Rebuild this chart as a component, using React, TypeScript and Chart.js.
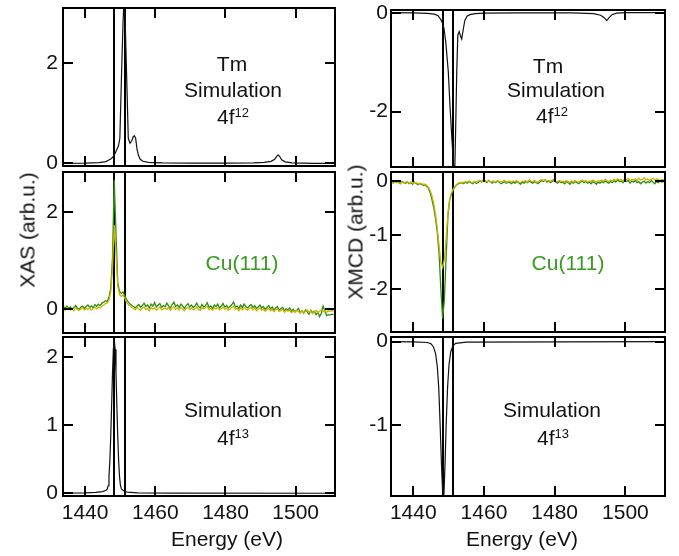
import React, { useEffect, useRef } from 'react';
import { Chart, registerables } from 'chart.js';

Chart.register(...registerables);

const FONT = '"Liberation Sans", Arial, Helvetica, sans-serif';
const INK = '#111111';
const GREEN = '#2f8c12';
const GREEN_TEXT = '#3a9a22';
const YELLOW = '#c9b400';

// ---------- axes ----------
const energyTicks = [1440, 1460, 1480, 1500];
const markerEnergies = [1448.3, 1451.3];
const energyMin = 1433.7;
const energyMax = 1511.2;

const xasTopTicks = [0, 2];
const xmcdTopTicks = [0, -2];
const xasMidTicks = [0, 2];
const xmcdMidTicks = [0, -1, -2];
const xasBotTicks = [0, 1, 2];
const xmcdBotTicks = [0, -1];

// ---------- Tm simulation 4f12 ----------
const simXas12E = [1433.7, 1440.0, 1444.0, 1446.0, 1446.6, 1447.2, 1447.7, 1448.0, 1448.5, 1449.0, 1449.5, 1449.9, 1450.4, 1450.8, 1451.1, 1451.4, 1451.8, 1452.3, 1452.8, 1453.3, 1453.7, 1454.0, 1454.4, 1454.8, 1455.2, 1455.7, 1456.5, 1458.0, 1462.0, 1470.0, 1480.0, 1488.0, 1491.0, 1493.0, 1494.0, 1494.6, 1495.0, 1495.4, 1496.0, 1497.0, 1499.0, 1505.0, 1511.0];
const simXas12 = [0.0, 0.005, 0.015, 0.035, 0.06, 0.08, 0.11, 0.13, 0.19, 0.27, 0.35, 0.5, 1.83, 2.8, 3.3, 2.9, 1.83, 0.5, 0.4, 0.45, 0.53, 0.55, 0.5, 0.28, 0.16, 0.08, 0.04, 0.02, 0.01, 0.005, 0.005, 0.01, 0.02, 0.04, 0.08, 0.14, 0.17, 0.14, 0.07, 0.03, 0.01, 0.0, 0.0];

const simXmcd12E = [1433.7, 1440.0, 1444.0, 1446.0, 1447.0, 1447.8, 1448.3, 1448.7, 1449.2, 1449.9, 1450.4, 1450.9, 1451.4, 1451.7, 1452.0, 1452.3, 1452.6, 1453.0, 1453.3, 1453.7, 1454.1, 1454.6, 1455.2, 1456.0, 1457.5, 1460.0, 1470.0, 1485.0, 1491.0, 1493.0, 1494.0, 1494.7, 1495.4, 1496.2, 1497.5, 1500.0, 1511.0];
const simXmcd12 = [0.0, -0.005, -0.012, -0.03, -0.06, -0.14, -0.22, -0.32, -0.6, -1.19, -1.9, -2.53, -3.1, -3.3, -2.3, -1.19, -0.45, -0.38, -0.46, -0.53, -0.35, -0.15, -0.07, -0.04, -0.02, -0.01, -0.005, -0.005, -0.02, -0.05, -0.1, -0.16, -0.1, -0.04, -0.01, 0.0, 0.0];

// ---------- simulation 4f13 ----------
const simXas13E = [1433.7, 1440.0, 1443.0, 1445.0, 1446.0, 1446.3, 1446.55, 1446.8, 1447.05, 1447.3, 1447.55, 1447.8, 1448.05, 1448.3, 1448.55, 1448.8, 1449.05, 1449.3, 1449.55, 1449.8, 1450.05, 1450.3, 1450.6, 1451.2, 1452.0, 1455.0, 1465.0, 1511.0];
const simXas13 = [0.003, 0.006, 0.012, 0.025, 0.045, 0.06, 0.11, 0.25, 0.48, 0.83, 1.28, 1.75, 2.11, 2.25, 2.11, 1.75, 1.28, 0.83, 0.48, 0.25, 0.12, 0.07, 0.05, 0.03, 0.018, 0.006, 0.002, 0.0];

const simXmcd13E = [1433.7, 1440.0, 1444.0, 1445.0, 1445.7, 1446.3, 1446.8, 1447.2, 1447.6, 1448.0, 1448.3, 1448.5, 1448.7, 1449.0, 1449.3, 1449.7, 1450.1, 1450.6, 1451.2, 1452.0, 1455.0, 1511.0];
const simXmcd13 = [0.0, -0.003, -0.01, -0.025, -0.06, -0.14, -0.3, -0.55, -1.0, -1.5, -1.8, -1.95, -1.8, -1.45, -1.0, -0.55, -0.28, -0.12, -0.05, -0.02, -0.005, 0.0];

// ---------- Cu(111) measurements, sampled every 0.5 eV from 1433.8 eV ----------
const expStart = 1433.8;
const expStep = 0.5;

const xasGreen = [
  0.05, 0.02, 0.06, 0.01, 0.04, 0.00, 0.03, 0.07, 0.02, -0.01, 0.04, 0.06, 0.01, 0.05, 0.08, 0.03, 0.06, 0.02, 0.09, 0.05, 0.10, 0.07, 0.12,
  0.14, 0.17, 0.15, 0.24, 0.42, 1.05, 2.68, 1.55, 0.55, 0.36, 0.32, 0.35, 0.28, 0.19, 0.14, 0.10, 0.07,
  0.05, 0.02, 0.06, 0.09, 0.03, 0.07, 0.12, 0.05, 0.08, 0.02, 0.10, 0.06, 0.13, 0.04, 0.08, 0.11, 0.03, 0.07, 0.05, 0.12, 0.06, 0.02, 0.09, 0.14, 0.05, 0.08, 0.03, 0.10, 0.06, 0.01, 0.07, 0.11, 0.04,
  0.08, 0.03, 0.06, 0.12, 0.05, 0.02, 0.09, 0.04, 0.07, 0.13, 0.03, 0.06, 0.01, 0.08, 0.05, 0.10, 0.02, 0.06, 0.11, 0.04, 0.07, 0.02, 0.05, 0.09, 0.14, 0.04, 0.06, 0.01, 0.08, 0.03, 0.10, 0.05, 0.02,
  0.06, 0.09, 0.03, 0.07, 0.01, 0.04, 0.08, 0.02, 0.05, -0.01, 0.03, 0.07, 0.00, 0.04, -0.02, 0.02, 0.05, -0.03, 0.01, 0.03, -0.04, 0.00, -0.02, 0.02, -0.05,
  -0.01, -0.06, -0.03, 0.01, -0.07, -0.04, -0.09, -0.02, -0.06, -0.11, -0.03, -0.08, -0.05, -0.12, -0.07, -0.16, -0.09, 0.06, -0.04, -0.14, -0.12, -0.13, -0.11, -0.12,
];

const xasYellow = [
  0.02, -0.03, 0.03, 0.00, -0.02, 0.01, -0.04, 0.02, -0.01, -0.03, 0.00, 0.03, -0.02, 0.01, -0.01, 0.02, -0.03, 0.01, 0.03, 0.00, 0.04, 0.02, 0.06,
  0.08, 0.11, 0.12, 0.18, 0.35, 0.85, 1.74, 1.15, 0.48, 0.30, 0.26, 0.29, 0.22, 0.14, 0.09, 0.06, 0.03,
  0.01, -0.02, 0.03, 0.00, -0.03, 0.02, 0.04, -0.01, 0.01, -0.04, 0.03, 0.00, 0.02, -0.03, 0.01, 0.04, -0.02, 0.00, 0.02, -0.01, 0.03, -0.03, 0.01, 0.05, -0.01, 0.02, -0.02, 0.03, 0.00, -0.04, 0.01, 0.03, -0.01,
  0.02, -0.02, 0.01, 0.04, -0.01, -0.03, 0.02, 0.00, 0.03, 0.05, -0.02, 0.01, -0.03, 0.02, 0.00, 0.03, -0.02, 0.01, 0.04, -0.01, 0.02, -0.03, 0.00, 0.03, 0.05, -0.01, 0.01, -0.04, 0.02, -0.02, 0.03, 0.00, -0.03,
  0.01, 0.03, -0.02, 0.02, -0.04, -0.01, 0.02, -0.03, 0.00, -0.05, -0.02, 0.01, -0.04, -0.01, -0.06, -0.02, 0.00, -0.05, -0.03, -0.01, -0.07, -0.03, -0.05, -0.02, -0.08,
  -0.04, -0.07, -0.03, -0.06, -0.09, -0.04, -0.08, -0.05, -0.02, -0.07, -0.04, -0.10, -0.06, -0.03, -0.08, -0.05, -0.02, -0.06, -0.03, -0.07, -0.04, -0.05, -0.03, -0.05,
];

const xmcdGreen = [
  -0.01, -0.04, 0.00, -0.03, -0.02, -0.05, -0.01, -0.03, -0.04, -0.02, -0.05, -0.03, -0.06, -0.02, -0.04, -0.07, -0.05, -0.06, -0.08, -0.07,
  -0.10, -0.14, -0.22, -0.35, -0.50, -0.70, -0.95, -1.35, -2.00, -2.55, -2.20, -1.40, -0.65, -0.35, -0.24, -0.16, -0.11, -0.07, -0.05,
  -0.04, -0.03, -0.05, -0.02, -0.04, -0.01, -0.03, -0.05, -0.02, -0.04, -0.03, 0.01, -0.02, 0.02, 0.00, -0.03, 0.01, -0.02, -0.04, -0.01, -0.03, 0.00, -0.02, -0.05, -0.03, -0.01, -0.04, -0.02, -0.03,
  -0.05, -0.02, -0.04, -0.01, -0.03, -0.06, -0.02, -0.04, -0.01, -0.03, 0.00, -0.02, -0.04, -0.01, -0.03, -0.05, -0.02, 0.01, -0.01, 0.02, -0.02, 0.00, -0.03, -0.01, 0.01, -0.02, -0.04, -0.01, -0.03,
  -0.02, -0.05, -0.01, -0.03, -0.06, -0.02, -0.04, -0.01, -0.03, -0.05, -0.02, 0.00, -0.03, -0.01, -0.04, -0.02, -0.05, -0.01, -0.03, -0.06, -0.02, -0.04, -0.01, -0.03, 0.00, -0.02, -0.04, -0.01, -0.03,
  0.01, -0.02, 0.02, -0.01, 0.00, -0.03, 0.02, -0.01, 0.01, -0.04, 0.00, -0.02, 0.01, -0.03, -0.01, -0.05, -0.02, 0.00, -0.04, -0.01, -0.03, 0.01, -0.02, -0.05, -0.01, -0.03, 0.00, -0.02, -0.01,
];

const xmcdYellow = [
  -0.02, -0.03, -0.01, -0.02, -0.03, -0.04, -0.02, -0.02, -0.03, -0.01, -0.04, -0.02, -0.04, -0.03, -0.03, -0.05, -0.04, -0.05, -0.06, -0.06,
  -0.08, -0.12, -0.18, -0.28, -0.42, -0.62, -0.88, -1.20, -1.50, -1.60, -1.45, -1.05, -0.60, -0.33, -0.22, -0.15, -0.10, -0.06, -0.04,
  -0.03, -0.02, -0.03, -0.01, -0.02, 0.00, -0.02, -0.03, -0.01, -0.02, 0.00, 0.01, -0.01, 0.02, 0.01, -0.01, 0.00, -0.02, -0.01, 0.00, -0.02, 0.01, -0.01, -0.02, 0.00, 0.01, -0.02, -0.01, 0.00,
  -0.02, 0.00, -0.01, 0.01, -0.02, -0.03, 0.00, -0.01, 0.01, -0.02, 0.02, 0.00, -0.01, 0.01, -0.02, -0.01, 0.01, 0.03, 0.01, 0.02, 0.00, 0.01, -0.01, 0.02, 0.03, 0.00, -0.01, 0.01, -0.01,
  0.00, -0.02, 0.01, -0.01, -0.03, 0.00, -0.02, 0.01, -0.01, -0.02, 0.00, 0.02, -0.01, 0.01, -0.02, 0.00, -0.01, 0.02, 0.00, -0.02, 0.01, -0.01, 0.02, 0.00, 0.03, 0.01, -0.01, 0.02, 0.00,
  0.03, 0.01, 0.04, 0.02, 0.03, 0.00, 0.04, 0.02, 0.05, 0.01, 0.03, 0.02, 0.04, 0.01, 0.05, 0.02, 0.03, 0.06, 0.02, 0.04, 0.01, 0.03, 0.05, 0.02, 0.04, 0.03, 0.01, 0.03, 0.02,
];

// ---------- helpers ----------
const pairUp = (xs: number[], ys: number[]) => ys.map((y, i) => ({ x: xs[i], y }));
const sampled = (ys: number[]) => ys.map((y, i) => ({ x: expStart + expStep * i, y }));

type Series = { points: { x: number; y: number }[]; color: string; width: number };
type PanelCfg = {
  id: string;
  left: number; top: number; width: number; height: number;
  pad: { left: number; right: number; top: number; bottom: number };
  yWidth: number; yPad: number;
  yMin: number; yMax: number; yTicks: number[];
  showX: boolean;
  series: Series[];
};

const LEFT_COL = { left: 0, width: 340, yWidth: 63, padRight: 5, yPad: 5 };
const RIGHT_COL = { left: 340, width: 339, yWidth: 51, padRight: 14, yPad: 3 };

const panels: PanelCfg[] = [
  {
    id: 'xas-top', left: LEFT_COL.left, top: 0, width: LEFT_COL.width, height: 180,
    pad: { left: 0, right: LEFT_COL.padRight, top: 8, bottom: 14 }, yWidth: LEFT_COL.yWidth, yPad: LEFT_COL.yPad,
    yMin: -0.054, yMax: 3.106, yTicks: xasTopTicks, showX: false,
    series: [{ points: pairUp(simXas12E, simXas12), color: INK, width: 1.2 }],
  },
  {
    id: 'xmcd-top', left: RIGHT_COL.left, top: 0, width: RIGHT_COL.width, height: 180,
    pad: { left: 0, right: RIGHT_COL.padRight, top: 10, bottom: 13 }, yWidth: RIGHT_COL.yWidth, yPad: RIGHT_COL.yPad,
    yMin: -3.12, yMax: 0.055, yTicks: xmcdTopTicks, showX: false,
    series: [{ points: pairUp(simXmcd12E, simXmcd12), color: INK, width: 1.2 }],
  },
  {
    id: 'xas-mid', left: LEFT_COL.left, top: 166, width: LEFT_COL.width, height: 174,
    pad: { left: 0, right: LEFT_COL.padRight, top: 6, bottom: 7 }, yWidth: LEFT_COL.yWidth, yPad: LEFT_COL.yPad,
    yMin: -0.50, yMax: 2.84, yTicks: xasMidTicks, showX: false,
    series: [
      { points: sampled(xasYellow), color: YELLOW, width: 1.3 },
      { points: sampled(xasGreen), color: GREEN, width: 1.3 },
    ],
  },
  {
    id: 'xmcd-mid', left: RIGHT_COL.left, top: 166, width: RIGHT_COL.width, height: 174,
    pad: { left: 0, right: RIGHT_COL.padRight, top: 6, bottom: 8 }, yWidth: RIGHT_COL.yWidth, yPad: RIGHT_COL.yPad,
    yMin: -2.796, yMax: 0.167, yTicks: xmcdMidTicks, showX: false,
    series: [
      { points: sampled(xmcdYellow), color: YELLOW, width: 1.3 },
      { points: sampled(xmcdGreen), color: GREEN, width: 1.3 },
    ],
  },
  {
    id: 'xas-bot', left: LEFT_COL.left, top: 330, width: LEFT_COL.width, height: 226,
    pad: { left: 0, right: LEFT_COL.padRight, top: 7, bottom: 0 }, yWidth: LEFT_COL.yWidth, yPad: LEFT_COL.yPad,
    yMin: -0.04, yMax: 2.29, yTicks: xasBotTicks, showX: true,
    series: [{ points: pairUp(simXas13E, simXas13), color: INK, width: 1.2 }],
  },
  {
    id: 'xmcd-bot', left: RIGHT_COL.left, top: 330, width: RIGHT_COL.width, height: 226,
    pad: { left: 0, right: RIGHT_COL.padRight, top: 7, bottom: 0 }, yWidth: RIGHT_COL.yWidth, yPad: RIGHT_COL.yPad,
    yMin: -1.85, yMax: 0.056, yTicks: xmcdBotTicks, showX: true,
    series: [{ points: pairUp(simXmcd13E, simXmcd13), color: INK, width: 1.2 }],
  },
];

const TICK_LEN = 10;

const framePlugin = {
  id: 'igorFrame',
  beforeDatasetsDraw(chart: any) {
    const { ctx, chartArea: a, scales } = chart;
    const xs = scales.x;
    ctx.save();
    ctx.strokeStyle = '#000';
    ctx.lineWidth = 2;
    ctx.beginPath();
    for (const e of markerEnergies) {
      const px = Math.round(xs.getPixelForValue(e));
      ctx.moveTo(px, a.top);
      ctx.lineTo(px, a.bottom);
    }
    ctx.stroke();
    ctx.restore();
  },
  afterDatasetsDraw(chart: any, _args: any, opts: any) {
    const { ctx, chartArea: a, scales } = chart;
    const xs = scales.x;
    const ys = scales.y;
    const yTicks: number[] = opts.yTicks || [];
    ctx.save();
    ctx.strokeStyle = '#000';
    ctx.lineWidth = 2;
    ctx.beginPath();
    for (const e of energyTicks) {
      const px = Math.round(xs.getPixelForValue(e));
      ctx.moveTo(px, a.top);
      ctx.lineTo(px, a.top + TICK_LEN);
      ctx.moveTo(px, a.bottom);
      ctx.lineTo(px, a.bottom - TICK_LEN);
    }
    for (const v of yTicks) {
      const py = Math.round(ys.getPixelForValue(v));
      ctx.moveTo(a.left, py);
      ctx.lineTo(a.left + TICK_LEN, py);
      ctx.moveTo(a.right, py);
      ctx.lineTo(a.right - TICK_LEN, py);
    }
    ctx.stroke();
    ctx.strokeRect(a.left, a.top, a.right - a.left, a.bottom - a.top);
    ctx.restore();
  },
};

function Panel({ cfg }: { cfg: PanelCfg }) {
  const ref = useRef<HTMLCanvasElement>(null);
  useEffect(() => {
    const canvas = ref.current;
    if (!canvas) return;
    const tickFont = { family: FONT, size: 21 };
    const chart = new Chart(canvas, {
      type: 'line',
      data: {
        datasets: cfg.series.map((s) => ({
          data: s.points,
          borderColor: s.color,
          borderWidth: s.width,
          pointRadius: 0,
          tension: 0,
          fill: false,
        })),
      },
      options: {
        responsive: false,
        animation: false,
        devicePixelRatio: 1,
        events: [],
        layout: { padding: cfg.pad },
        plugins: {
          legend: { display: false },
          tooltip: { enabled: false },
          igorFrame: { yTicks: cfg.yTicks },
        } as any,
        scales: {
          x: {
            type: 'linear',
            min: energyMin,
            max: energyMax,
            bounds: 'data',
            display: cfg.showX,
            grid: { display: false, drawTicks: false },
            border: { display: false },
            ticks: {
              font: tickFont,
              color: INK,
              padding: 5,
              maxRotation: 0,
              minRotation: 0,
              autoSkip: false,
              callback: (v: any) => String(v),
            },
            afterBuildTicks: (s: any) => {
              s.ticks = energyTicks.map((v) => ({ value: v }));
            },
            afterFit: (s: any) => {
              if (cfg.showX) s.height = 60;
              s.paddingLeft = 0;
              s.paddingRight = 0;
            },
          },
          y: {
            type: 'linear',
            min: cfg.yMin,
            max: cfg.yMax,
            bounds: 'data',
            grid: { display: false, drawTicks: false },
            border: { display: false },
            ticks: {
              font: tickFont,
              color: INK,
              padding: cfg.yPad,
              autoSkip: false,
              callback: (v: any) => String(v),
            },
            afterBuildTicks: (s: any) => {
              s.ticks = cfg.yTicks.map((v) => ({ value: v }));
            },
            afterFit: (s: any) => {
              s.width = cfg.yWidth;
              s.paddingTop = 0;
              s.paddingBottom = 0;
            },
          },
        },
      } as any,
      plugins: [framePlugin],
    });
    return () => chart.destroy();
  }, [cfg]);
  return (
    <canvas
      ref={ref}
      width={cfg.width}
      height={cfg.height}
      style={{ position: 'absolute', left: cfg.left, top: cfg.top, width: cfg.width, height: cfg.height }}
    />
  );
}

type TextItem = { x: number; y: number; text: string; sup?: string; color?: string; rotate?: boolean };

const texts: TextItem[] = [
  { x: 232, y: 63, text: 'Tm' },
  { x: 233, y: 89, text: 'Simulation' },
  { x: 233, y: 116, text: '4f', sup: '12' },
  { x: 548, y: 65, text: 'Tm' },
  { x: 556, y: 89, text: 'Simulation' },
  { x: 552, y: 115, text: '4f', sup: '12' },
  { x: 242, y: 262, text: 'Cu(111)', color: GREEN_TEXT },
  { x: 568, y: 262, text: 'Cu(111)', color: GREEN_TEXT },
  { x: 233, y: 409, text: 'Simulation' },
  { x: 233, y: 437, text: '4f', sup: '13' },
  { x: 552, y: 409, text: 'Simulation' },
  { x: 553, y: 437, text: '4f', sup: '13' },
  { x: 27, y: 230, text: 'XAS (arb.u.)', rotate: true },
  { x: 355, y: 232, text: 'XMCD (arb.u.)', rotate: true },
  { x: 227, y: 538, text: 'Energy (eV)' },
  { x: 522, y: 538, text: 'Energy (eV)' },
];

function Label({ item }: { item: TextItem }) {
  return (
    <div
      style={{
        position: 'absolute',
        left: item.x,
        top: item.y,
        transform: `translate(-50%, -50%)${item.rotate ? ' rotate(-90deg)' : ''}`,
        whiteSpace: 'nowrap',
        fontSize: 21,
        lineHeight: 1,
        color: item.color || INK,
      }}
    >
      {item.text}
      {item.sup ? (
        <span style={{ fontSize: 13, position: 'relative', top: -7 }}>{item.sup}</span>
      ) : null}
    </div>
  );
}

export default function App() {
  return (
    <div
      style={{
        position: 'absolute',
        left: 0,
        top: 0,
        width: 679,
        height: 556,
        background: '#ffffff',
        fontFamily: FONT,
        overflow: 'hidden',
      }}
    >
      {panels.map((p) => (
        <Panel key={p.id} cfg={p} />
      ))}
      {texts.map((t, i) => (
        <Label key={i} item={t} />
      ))}
    </div>
  );
}
